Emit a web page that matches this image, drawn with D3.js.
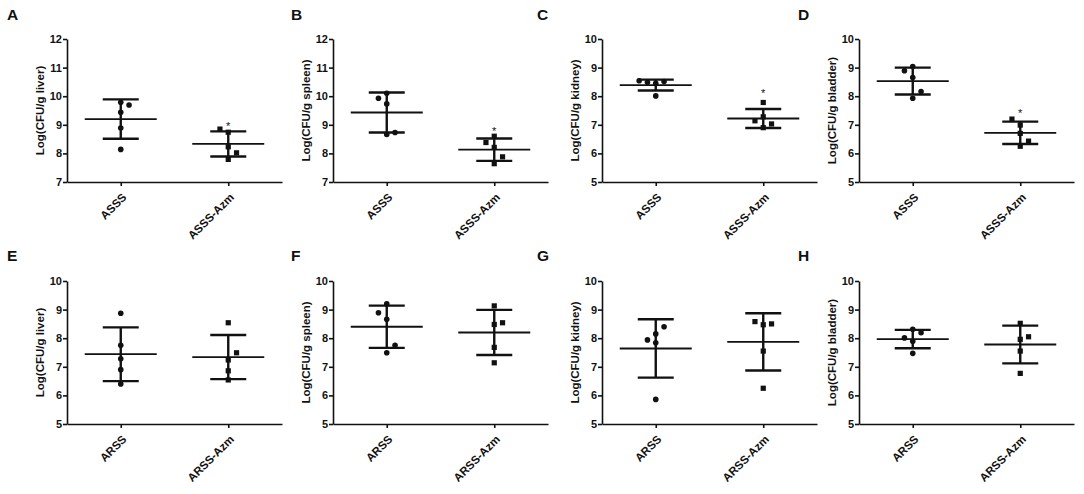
<!DOCTYPE html>
<html>
<head>
<meta charset="utf-8">
<script src="https://cdn.jsdelivr.net/npm/d3@7"></script>
<style>
  body { margin: 0; background: #fff; }
  text { font-family: "Liberation Sans", Arial, sans-serif; fill: #111; }
</style>
</head>
<body>
<script>
// one entry per panel, A..H
var panelLetters = ["A", "B", "C", "D", "E", "F", "G", "H"];
var organs = ["liver", "spleen", "kidney", "bladder", "liver", "spleen", "kidney", "bladder"];
var strainsTop = ["ASSS", "ASSS-Azm"];
var strainsBottom = ["ARSS", "ARSS-Azm"];
var yMins = [7, 7, 5, 5, 5, 5, 5, 5];
var yMaxs = [12, 12, 10, 10, 10, 10, 10, 10];

// log CFU per mouse (5 per group)
var controlValues = [
    [8.14, 8.89, 9.44, 9.69, 9.79],
    [8.66, 8.73, 9.73, 9.93, 10.10],
    [8.01, 8.45, 8.51, 8.49, 8.54],
    [7.93, 8.16, 8.65, 8.89, 9.04],
    [6.40, 6.90, 7.28, 7.75, 8.87],
    [7.49, 7.75, 8.66, 8.89, 9.20],
    [5.86, 7.84, 8.15, 8.40, 7.94],
    [7.47, 7.89, 8.31, 8.19, 8.01]
];
var azmValues = [
    [7.79, 8.02, 8.23, 8.74, 8.85],
    [7.64, 7.88, 8.21, 8.38, 8.60],
    [6.90, 7.03, 7.14, 7.28, 7.78],
    [6.25, 6.43, 6.70, 6.99, 7.20],
    [6.54, 6.86, 7.24, 7.49, 8.54],
    [7.14, 7.68, 8.48, 8.54, 9.13],
    [6.25, 7.55, 8.47, 8.50, 8.58],
    [6.77, 7.55, 7.96, 8.05, 8.52]
];
var controlMeans = [9.20, 9.43, 8.39, 8.53, 7.44, 8.40, 7.64, 7.97];
var controlSD = [0.69, 0.70, 0.19, 0.47, 0.94, 0.74, 1.02, 0.32];
var azmMeans = [8.33, 8.13, 7.22, 6.72, 7.34, 8.20, 7.87, 7.78];
var azmSD = [0.44, 0.39, 0.33, 0.39, 0.77, 0.79, 1.00, 0.66];
// asterisk above the Azm group (only top row)
var starValues = [9.05, 8.87, 8.22, 7.52, null, null, null, null];

var outerWidth = 1084;
var outerHeight = 494;
var axisX = [67, 333, 602, 859];
var letterX = [7, 291, 537, 798];
var rowTop = [39, 281];
var letterY = [20, 261];
var plotHeight = 143;
var axisLength = 215;

var meanHalf = 36;
var capHalf = 18;
var slotWidth = 8.3;
var minGap = 7.8;
var dotRadius = 2.8;
var squareSize = 5.2;
var ink = "#111";

var svg = d3.select("body").append("svg")
    .attr("width", outerWidth)
    .attr("height", outerHeight);

// spread points that sit too close vertically, like the prism scatter
function dodge(values, y) {
    var placed = [];
    var dodges = 0;
    return values.map(function(v) {
        var py = y(v);
        var free = function(slot) {
            return placed.every(function(p) { return p.slot !== slot || Math.abs(p.py - py) >= minGap; });
        };
        var slot = 0;
        if (!free(0)) {
            var s = dodges % 2 === 0 ? 1 : -1;
            slot = [s, -s, -2 * s, 2 * s].find(free);
            if (slot === undefined) slot = 3 * s;
            dodges++;
        }
        placed.push({ slot: slot, py: py });
        return { value: v, slot: slot };
    });
}

panelLetters.forEach(function(letter, i) {
    var col = i % 4;
    var row = Math.floor(i / 4);
    var names = row === 0 ? strainsTop : strainsBottom;

    svg.append("text")
        .attr("x", letterX[col])
        .attr("y", letterY[row])
        .attr("font-size", 15.5)
        .attr("font-weight", "bold")
        .text(letter);

    var g = svg.append("g")
        .attr("transform", "translate(" + axisX[col] + "," + rowTop[row] + ")");

    var x = d3.scalePoint()
        .domain(names)
        .range([0, axisLength])
        .padding(0.5);

    var y = d3.scaleLinear()
        .domain([yMins[i], yMaxs[i]])
        .range([plotHeight, 0]);

    var yAxis = g.append("g")
        .call(d3.axisLeft(y)
            .tickValues(d3.range(yMins[i], yMaxs[i] + 1))
            .tickFormat(d3.format("d"))
            .tickSize(4)
            .tickSizeOuter(0)
            .tickPadding(1));

    var xAxis = g.append("g")
        .attr("transform", "translate(0," + plotHeight + ")")
        .call(d3.axisBottom(x)
            .tickSize(4)
            .tickSizeOuter(0));

    [yAxis, xAxis].forEach(function(ax) {
        ax.select(".domain").attr("stroke", ink).attr("stroke-width", 1.6);
        ax.selectAll(".tick line").attr("stroke", ink).attr("stroke-width", 1.6);
        ax.selectAll("text")
            .attr("font-size", 11)
            .attr("font-weight", "bold")
            .attr("font-family", "Liberation Sans, Arial, sans-serif")
            .attr("fill", ink);
    });

    xAxis.selectAll(".tick text")
        .attr("text-anchor", "end")
        .attr("font-size", 11.5)
        .attr("dy", null)
        .attr("y", 0)
        .attr("transform", "translate(6,16) rotate(-45)");

    g.append("text")
        .attr("transform", "translate(-27," + (plotHeight / 2) + ") rotate(-90)")
        .attr("text-anchor", "middle")
        .attr("dy", "0.35em")
        .attr("font-size", 11.5)
        .attr("font-weight", "bold")
        .text("Log(CFU/g " + organs[i] + ")");

    var groups = [
        { name: names[0], values: controlValues[i], mean: controlMeans[i], sd: controlSD[i], shape: "circle" },
        { name: names[1], values: azmValues[i], mean: azmMeans[i], sd: azmSD[i], shape: "square" }
    ];

    groups.forEach(function(grp) {
        var cx = x(grp.name);
        var pts = dodge(grp.values, y);

        if (grp.shape === "circle") {
            g.selectAll(null)
                .data(pts)
                .enter()
                .append("circle")
                .attr("cx", function(d) { return cx + d.slot * slotWidth; })
                .attr("cy", function(d) { return y(d.value); })
                .attr("r", dotRadius)
                .attr("fill", ink);
        } else {
            g.selectAll(null)
                .data(pts)
                .enter()
                .append("rect")
                .attr("x", function(d) { return cx + d.slot * slotWidth - squareSize / 2; })
                .attr("y", function(d) { return y(d.value) - squareSize / 2; })
                .attr("width", squareSize)
                .attr("height", squareSize)
                .attr("fill", ink);
        }

        // mean line and SD bars
        g.append("line")
            .attr("x1", cx - meanHalf).attr("x2", cx + meanHalf)
            .attr("y1", y(grp.mean)).attr("y2", y(grp.mean))
            .attr("stroke", ink).attr("stroke-width", 1.8);
        g.append("line")
            .attr("x1", cx).attr("x2", cx)
            .attr("y1", y(grp.mean + grp.sd)).attr("y2", y(grp.mean - grp.sd))
            .attr("stroke", ink).attr("stroke-width", 2.4);
        [grp.mean + grp.sd, grp.mean - grp.sd].forEach(function(v) {
            g.append("line")
                .attr("x1", cx - capHalf).attr("x2", cx + capHalf)
                .attr("y1", y(v)).attr("y2", y(v))
                .attr("stroke", ink).attr("stroke-width", 2.4);
        });
    });

    if (starValues[i] !== null) {
        g.append("text")
            .attr("x", x(names[1]))
            .attr("y", y(starValues[i]))
            .attr("dy", "0.6em")
            .attr("text-anchor", "middle")
            .attr("font-size", 11)
            .text("*");
    }
});
</script>
</body>
</html>
